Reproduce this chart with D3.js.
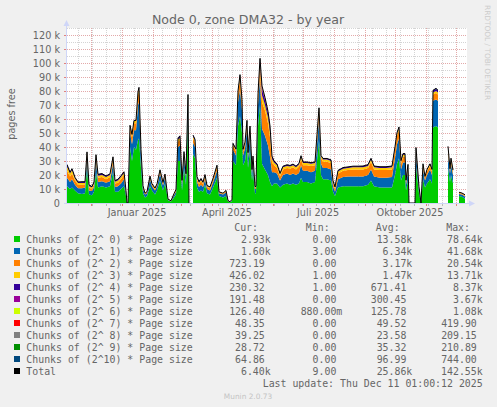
<!DOCTYPE html>
<html>
<head>
<meta charset="utf-8">
<script src="https://cdn.jsdelivr.net/npm/d3@7"></script>
<style>
  body { margin: 0; background: #f0f0f0; }
  text { font-family: "DejaVu Sans", sans-serif; fill: #666; }
  .mono { font-family: "DejaVu Sans Mono", monospace; white-space: pre; }
</style>
</head>
<body>
<div id="chart"></div>
<script>
// Step 1.
// Data (values in thousands of pages, day = days after 2024-11-07)

const day = [0,3,5,8,11,15,18,20,22,25,
  27,29,31,35,39,43,46,48,51,54,
  57,59,60,61,63,65,67,69,71,72,
  74,76,78,80,83,85,88,90,93,96,
  98,101,104,107,109,111,113,115,117,119,
  121,122,123,126,128,130,132,134,136,138,
  140,143,146,150,152,156,159,161,163,165,
  166,169,171,173,175,176,178,180,181,183,
  185,186,188,189,191,193,195,198,201,203,
  205,207,210,213,216,220,223,226,229,232,
  234,236,240,244,248,250,252,254,256,260,
  264,266,268,271,276,281,286,291,296,301,
  304,307,313,319,325,328,330,332,334,336,
  338,339,341,342,348,349,352,354,356,358,
  360,363,365,366,369,371,372,381,383,384,
  386,387,392,395,398];

// 2^0 (null = no data)
const chunks0 = [12,10,11,9,7,6.5,7,25,6,5.5,
  8,22,11,12,11,12,22,8,8,10,
  12,5,0,0,40,30,40,38,45,46,
  25,7,4,5,12,9,6,9,16,9,
  14,2,1,4,6,30,30,9,25,13,
  60,0,null,35,32,11,8,9,8,13,
  7,6,11,18,5,4,5,1,0.5,1.5,
  30,27,55,62,50,27,30,42,25,38,
  16,23,7,7,55,70,28,24,20,15,
  12,14,14,11,13,14,13,14,13,14,
  18,15,15,14,15,30,45,20,17,17,
  16,8,5,11,12,12,12,12,12,13,
  16,12,11,11,11,20,28,32,16,20,
  20,9,16,0,0,26,7,0,17,11,
  14,17,14,54,55,54,null,25,15,20,
  14,null,5,4.5,3];

// 2^1
const chunks1 = [6,5,6,4,3.5,4,4,7,3,3,
  3.5,8,4,3.5,3.5,3.5,6,3.5,4,4,
  5,2,0,0,10,12,12,14,25,26,
  9,3,2,2,5,3,3,3,5,3.5,
  4.5,0.5,0.3,1.5,2,10,11,4,8,5,
  12,0,null,8,8,4,3.5,4,3.5,4,
  3,3,3.5,5,2,2,2.5,0.5,0.3,0.6,
  8,7,17,19,16,7,9,11,7,11,
  5,7,3,3,15,20,25,24,21,18,
  10,8,7,5,7,7,7,7,7,7.5,
  9,8,8,8,8,12,15,8,8,8,
  8,4,3,6,6.5,7,7,7,7,7,
  8,7,7,7,7.5,12,14,14,8,9,
  9,4,7,0,0,9,3,0,7,5,
  6,7,6,19,19,19,null,10,6,8,
  6,null,1.5,1.5,1.6];

// 2^2
const chunks2 = [5,4,4,3,2.5,2.5,2,3,2,1.5,
  2,3,3,3,2.5,3,3,2.5,2.5,3,
  3,1,0,0,4,5,5,5,7,8,
  3,1.5,0.6,0.8,1.5,1,1,1,2,1.5,
  1.5,0.2,0.2,0.8,1,4,4,2,2.5,2,
  4,0,null,3,3,2,2,2.5,2,2,
  1.5,1.5,2,2.5,0.5,0.6,1,0.2,0.1,0.3,
  3,3,6,7,6,3,3,4,2.5,4,
  2,2.5,1.2,1.2,6,8,19,18,16,14,
  7,5,4,3,4,4,4.5,4.5,4,4.5,
  4.5,4,4,4.5,4,5,6,4,4.5,4.5,
  4.5,2.5,2,4,4.5,4.5,5,5,5,5,
  5.5,5,5.5,5.5,5.5,6,6,6,4,4,
  4,2,3,0,0,3,1,0,2.5,2,
  2.5,2.5,2.5,4.5,4.5,4.5,null,3,2,2.5,
  2,null,0.6,0.6,0.7];

// 2^3
const chunks3 = [3,2,2.5,1.5,1.2,1.2,1.2,1,1,1,
  1,1,1.5,1.5,1.5,1.5,1.5,1.2,1.5,1.5,
  1.5,0.5,0,0,1,1.5,1.5,1.5,2,2,
  1,0.5,0.3,0.3,0.5,0.5,0.5,0.5,0.5,0.5,
  0.5,0.1,0.1,0.3,0.4,1.5,1.5,0.8,0.8,0.6,
  1,0,null,1.5,1.5,1,1,1,0.8,0.8,
  0.6,0.6,0.6,1,0.3,0.3,0.3,0.1,0,0.1,
  1,1,1.5,2,1.5,1,1,1.5,1,1.5,
  0.6,0.8,0.4,0.4,1.5,2,5,4,4,4,
  2.5,2,2,1.5,1.5,1.5,1.5,1.5,1.5,1.5,
  1.5,1.5,1.5,1.5,1.5,1.5,1.5,1.5,1.5,1.5,
  1.5,1,1,1.5,1.5,1.5,1.5,1.5,1.5,1.5,
  1.5,1.5,1.5,1.5,1.5,1.5,1.5,1.5,1.5,1.5,
  1.5,0.8,1,0,0,1,0.4,0,1,0.7,
  1,1,1,1.5,1.5,1.5,null,1.5,1,1,
  1,null,0.4,0.3,0.4];

// 2^4
const chunks4 = [1.5,1,1,0.8,0.8,1,1,0.5,1,0.7,
  0.5,0.5,1,1,0.8,0.8,0.5,0.8,1,1,
  0.8,0.3,0,0,0.5,0.5,0.5,0.5,0.5,0.6,
  0.3,0.3,0.1,0.1,0.2,0.2,0.2,0.2,0.2,0.2,
  0.2,0,0,0.1,0.2,1,1.5,0.4,0.4,0.3,
  0.5,0,null,1,1,0.8,0.8,1,0.6,0.5,
  0.4,0.4,0.4,0.5,0.2,0.1,0.2,0,0,0.1,
  0.6,0.5,0.5,0.7,0.5,0.3,0.5,0.5,0.5,0.5,
  0.3,0.3,0.2,0.2,0.5,1,4,3.5,3,3,
  1.5,1,1,0.7,0.8,0.8,0.8,0.8,0.8,0.8,
  0.8,0.8,0.8,0.8,0.8,0.5,0.5,0.5,0.8,0.8,
  0.8,0.5,0.5,0.8,0.8,0.8,0.8,0.8,0.9,0.9,
  0.9,0.9,0.9,0.9,0.9,0.8,0.8,0.8,0.8,0.8,
  0.8,0.5,0.6,0,0,0.6,0.2,0,0.5,0.3,
  0.5,0.5,0.5,1.5,1.5,1.5,null,1,0.5,0.5,
  0.5,null,0.2,0.2,0.2];

// the higher orders are thin, only where they show: [day, value]
const chunks5 = [[193,0.8],[195,1.5],[198,1.5],[201,1.2],[203,1],[205,0.5]];
const chunks6 = [[195,0.6],[198,0.4],[201,0.3]];
const chunks7 = [[173,0.3],[193,0.4],[195,0.3]];
const chunks8 = [[193,0.2],[195,0.2]];
const chunks9 = [[173,0.2],[193,0.2]];
const chunks10 = [[173,0.5],[193,0.7],[369,0.4]];

const seriesNames = ["Chunks of (2^ 0) * Page size", "Chunks of (2^ 1) * Page size",
  "Chunks of (2^ 2) * Page size", "Chunks of (2^ 3) * Page size",
  "Chunks of (2^ 4) * Page size", "Chunks of (2^ 5) * Page size",
  "Chunks of (2^ 6) * Page size", "Chunks of (2^ 7) * Page size",
  "Chunks of (2^ 8) * Page size", "Chunks of (2^ 9) * Page size",
  "Chunks of (2^10) * Page size", "Total"];
const seriesColors = ["#00CC00", "#0066B3", "#FF8000", "#FFCC00", "#330099", "#990099",
  "#CCFF00", "#FF0000", "#808080", "#008F00", "#00487D", "#000000"];

const curVals = ["2.93k","1.60k","723.19","426.02","230.32","191.48","126.40","48.35","39.25","28.72","64.86","6.40k"];
const minVals = ["0.00","3.00","0.00","1.00","1.00","0.00","880.00m","0.00","0.00","0.00","0.00","9.00"];
const avgVals = ["13.58k","6.34k","3.17k","1.47k","671.41","300.45","125.78","49.52","23.58","35.32","96.99","25.86k"];
const maxVals = ["78.64k","41.68k","20.54k","13.71k","8.37k","3.67k","1.08k","419.90","209.15","210.89","744.00","142.55k"];

const yTicks = d3.range(0, 121, 10);
const monthLabels = ["Januar 2025", "April 2025", "Juli 2025", "Oktober 2025"];
const labelMonths = [new Date(2025, 0, 1), new Date(2025, 3, 1), new Date(2025, 6, 1), new Date(2025, 9, 1)];

// Step 2.
// SVG and scales

const svgWidth = 497;
const svgHeight = 407;

const svg = d3.select("#chart")
  .append("svg")
  .attr("width", svgWidth)
  .attr("height", svgHeight);

svg.append("rect")
  .attr("width", svgWidth)
  .attr("height", svgHeight)
  .attr("fill", "#f0f0f0");

const start = new Date(2024, 10, 7);
const end = d3.timeDay.offset(start, 400);

const x = d3.scaleTime().domain([start, end]).range([67, 467]);
const y = d3.scaleLinear().domain([0, 125]).range([203, 28]);

// canvas
svg.append("rect")
  .attr("x", 67).attr("y", 28)
  .attr("width", 400).attr("height", 175)
  .attr("fill", "#ffffff");

// grid
const gridGroup = svg.append("g").attr("shape-rendering", "crispEdges");
const minorColor = "#d4d4d4";
const majorColor = "#e3a9a9";

// horizontal minor every 5k, major every 10k
d3.range(5, 126, 10).forEach(v => {
  gridGroup.append("line")
    .attr("x1", 67).attr("x2", 467)
    .attr("y1", Math.round(y(v)) + 0.5).attr("y2", Math.round(y(v)) + 0.5)
    .attr("stroke", minorColor).attr("stroke-dasharray", "1,1");
});
yTicks.slice(1).forEach(v => {
  gridGroup.append("line")
    .attr("x1", 67).attr("x2", 467)
    .attr("y1", Math.round(y(v)) + 0.5).attr("y2", Math.round(y(v)) + 0.5)
    .attr("stroke", majorColor).attr("stroke-dasharray", "1,1");
});

// vertical minor every two weeks, major at month starts
const minorDates = d3.range(0, 400, 14).map(i => d3.timeDay.offset(new Date(2024, 10, 18), i))
  .filter(d => d < end);
const majorDates = d3.timeMonth.range(start, end);

minorDates.forEach(d => {
  const px = Math.round(x(d)) + 0.5;
  gridGroup.append("line")
    .attr("x1", px).attr("x2", px).attr("y1", 28).attr("y2", 203)
    .attr("stroke", minorColor).attr("stroke-dasharray", "1,1");
  gridGroup.append("line")
    .attr("x1", px).attr("x2", px).attr("y1", 203).attr("y2", 206)
    .attr("stroke", "#bbbbbb");
});
majorDates.forEach(d => {
  const px = Math.round(x(d)) + 0.5;
  gridGroup.append("line")
    .attr("x1", px).attr("x2", px).attr("y1", 28).attr("y2", 203)
    .attr("stroke", majorColor).attr("stroke-dasharray", "1,1");
  gridGroup.append("line")
    .attr("x1", px).attr("x2", px).attr("y1", 203).attr("y2", 206)
    .attr("stroke", "#e08080");
});

// y tick marks
yTicks.forEach(v => {
  gridGroup.append("line")
    .attr("x1", 64).attr("x2", 67)
    .attr("y1", Math.round(y(v)) + 0.5).attr("y2", Math.round(y(v)) + 0.5)
    .attr("stroke", "#e08080");
});

// Step 3.
// Stacked areas

const sparseMaps = [chunks5, chunks6, chunks7, chunks8, chunks9, chunks10].map(a => new Map(a));
const denseSeries = [chunks0, chunks1, chunks2, chunks3, chunks4];
const keys = d3.range(11).map(k => "c" + k);

const rows = day.map((d, i) => {
  const ok = chunks0[i] !== null;
  const row = { date: d3.timeDay.offset(start, d), ok: ok };
  denseSeries.forEach((s, k) => { row["c" + k] = ok ? s[i] : 0; });
  sparseMaps.forEach((m, k) => { row["c" + (k + 5)] = ok ? (m.get(d) || 0) : 0; });
  return row;
});

const stacked = d3.stack().keys(keys)(rows);

const area = d3.area()
  .defined(d => d.data.ok)
  .x(d => x(d.data.date))
  .y0(d => y(d[0]))
  .y1(d => y(d[1]));

svg.append("g")
  .selectAll("path")
  .data(stacked)
  .enter()
  .append("path")
  .attr("d", area)
  .attr("fill", (d, i) => seriesColors[i]);

// Total line
const totalLine = d3.line()
  .defined(d => d.ok)
  .x(d => x(d.date))
  .y(d => y(d3.sum(keys, k => d[k])));

svg.append("path")
  .datum(rows)
  .attr("d", totalLine)
  .attr("fill", "none")
  .attr("stroke", "#000000")
  .attr("stroke-width", 1);

// Step 4.
// Axes, arrows and labels

const axisColor = "#cfd6f8";
svg.append("line")
  .attr("x1", 66.5).attr("x2", 66.5).attr("y1", 204).attr("y2", 25)
  .attr("stroke", axisColor);
svg.append("line")
  .attr("x1", 64).attr("x2", 470).attr("y1", 203.5).attr("y2", 203.5)
  .attr("stroke", axisColor);
svg.append("path")
  .attr("d", "M63.5,26 L66.5,20 L69.5,26 Z")
  .attr("fill", axisColor);
svg.append("path")
  .attr("d", "M469,200.5 L475,203.5 L469,206.5 Z")
  .attr("fill", axisColor);

svg.append("g")
  .selectAll("text")
  .data(yTicks)
  .enter()
  .append("text")
  .attr("x", 60)
  .attr("y", d => y(d) + 3.5)
  .attr("text-anchor", "end")
  .style("font-size", "9.7px")
  .text(d => d === 0 ? "0" : `${d} k`);

svg.append("g")
  .selectAll("text")
  .data(labelMonths)
  .enter()
  .append("text")
  .attr("x", d => x(d3.timeDay.offset(d, 15)))
  .attr("y", 215.5)
  .attr("text-anchor", "middle")
  .style("font-size", "9.7px")
  .text((d, i) => monthLabels[i]);

svg.append("text")
  .attr("x", 248)
  .attr("y", 23.5)
  .attr("text-anchor", "middle")
  .style("font-size", "12.6px")
  .text("Node 0, zone DMA32 - by year");

svg.append("text")
  .attr("transform", "translate(15, 114) rotate(-90)")
  .attr("text-anchor", "middle")
  .style("font-size", "9.7px")
  .text("pages free");

svg.append("text")
  .attr("transform", "translate(485, 5) rotate(90)")
  .attr("text-anchor", "start")
  .style("font-size", "7.4px")
  .style("fill", "#cccccc")
  .text("RRDTOOL / TOBI OETIKER");

// Step 5.
// Legend

const legend = svg.append("g");
const rowBase = 242.5;
const rowStep = 12;
const charW = 5.9;
const colEnds = [270.7, 342.3, 412.3, 482.7];
const headers = ["Cur:", "Min:", "Avg:", "Max:"];
const columns = [curVals, minVals, avgVals, maxVals];

headers.forEach((h, c) => {
  legend.append("text")
    .attr("class", "mono")
    .attr("x", colEnds[c] - 12.7)
    .attr("y", rowBase - rowStep)
    .attr("text-anchor", "end")
    .style("font-size", "9.9px")
    .text(h);
});

seriesNames.forEach((name, i) => {
  const by = rowBase + i * rowStep;
  legend.append("rect")
    .attr("x", 14).attr("y", by - 6.5)
    .attr("width", 6).attr("height", 6)
    .attr("fill", seriesColors[i]);
  legend.append("text")
    .attr("class", "mono")
    .attr("x", 26.3)
    .attr("y", by)
    .style("font-size", "9.9px")
    .text(name);
  columns.forEach((col, c) => {
    const v = col[i];
    const hasUnit = /[a-z]$/.test(v);
    legend.append("text")
      .attr("class", "mono")
      .attr("x", hasUnit ? colEnds[c] : colEnds[c] - charW)
      .attr("y", by)
      .attr("text-anchor", "end")
      .style("font-size", "9.9px")
      .text(v);
  });
});

legend.append("text")
  .attr("class", "mono")
  .attr("x", 482.7)
  .attr("y", rowBase + 12 * rowStep)
  .attr("text-anchor", "end")
  .style("font-size", "9.9px")
  .text("Last update: Thu Dec 11 01:00:12 2025");

svg.append("text")
  .attr("x", 248)
  .attr("y", 399)
  .attr("text-anchor", "middle")
  .style("font-size", "7.4px")
  .style("fill", "#c4c4c4")
  .text("Munin 2.0.73");
</script>
</body>
</html>
